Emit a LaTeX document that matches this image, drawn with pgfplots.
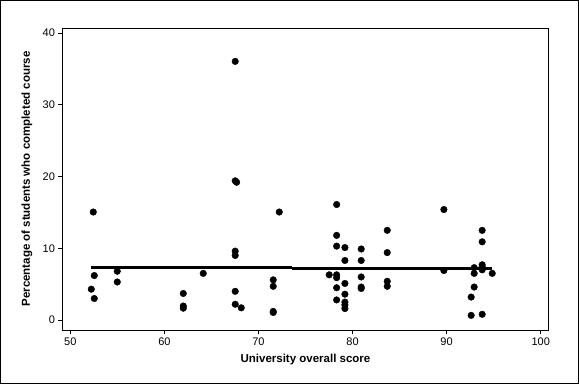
\documentclass[border=0pt]{standalone}
\usepackage{pgfplots}
\pgfplotsset{compat=1.18}
\usepackage{fontspec}
\setmainfont{Liberation Sans}
\pgfplotstableread{
x y
52.44 15.05
52.55 6.2
52.23 4.3
52.55 3.0
54.99 6.8
54.99 5.3
62.01 3.7
62.01 1.95
62.01 1.65
64.13 6.5
67.53 36.05
67.53 19.4
67.68 19.2
67.53 9.6
67.53 9.0
67.53 4.0
67.53 2.2
68.17 1.7
72.21 15.05
71.57 5.6
71.57 4.7
71.57 1.2
71.57 1.05
78.31 16.1
78.31 11.8
78.31 10.3
79.19 10.1
79.19 8.3
77.52 6.3
78.31 6.3
78.31 5.9
79.19 5.1
78.31 4.5
79.19 3.6
78.31 2.8
79.19 2.5
79.19 2.1
79.19 1.6
80.92 9.9
80.92 8.3
80.92 6.0
80.92 4.6
80.92 4.4
83.69 12.5
83.69 9.4
83.69 5.4
83.69 4.7
89.71 15.4
89.71 6.9
93.78 12.5
93.78 10.9
93.78 7.7
93.78 7.4
93.78 7.0
92.93 7.3
92.93 6.5
94.85 6.5
92.93 4.6
92.61 3.2
92.61 0.65
93.78 0.8
}\pts
\begin{document}
\begin{tikzpicture}
\begin{axis}[
  scale only axis, width=486bp, height=302bp,
  xmin=49.17, xmax=100.83, ymin=-1.39, ymax=40.7,
  xtick={50,60,...,100}, ytick={0,10,...,40},
  tick align=outside, xtick pos=lower, ytick pos=left,
  major tick length=4bp,
  tick style={black, line width=0.8bp},
  axis line style={line width=0.8bp},
  ticklabel style={font=\fontsize{11bp}{13bp}\selectfont},
  /pgf/number format/assume math mode=true,
  xlabel={University overall score},
  ylabel={Percentage of students who completed course},
  xlabel style={font=\fontsize{11.5bp}{13bp}\selectfont\bfseries, at={(axis description cs:0.5,-0.0993)}, anchor=center},
  ylabel style={font=\fontsize{11.5bp}{13bp}\selectfont\bfseries, at={(axis description cs:-0.073,0.5)}, anchor=center},
]
\addplot[no markers, line width=3bp] coordinates {(52.2,7.35) (73.56,7.35)};
\addplot[no markers, line width=3bp] coordinates {(73.56,7.2) (94.8,7.2)};
\addplot[only marks, mark=*, mark size=3.3bp, black, mark options={fill=black}] table[x=x,y=y] {\pts};
\end{axis}
\draw[line width=1bp] ([shift={(-62bp,-53.5bp)}]current axis.south west) rectangle ([shift={(30bp,27.5bp)}]current axis.north east);
\end{tikzpicture}
\end{document}
